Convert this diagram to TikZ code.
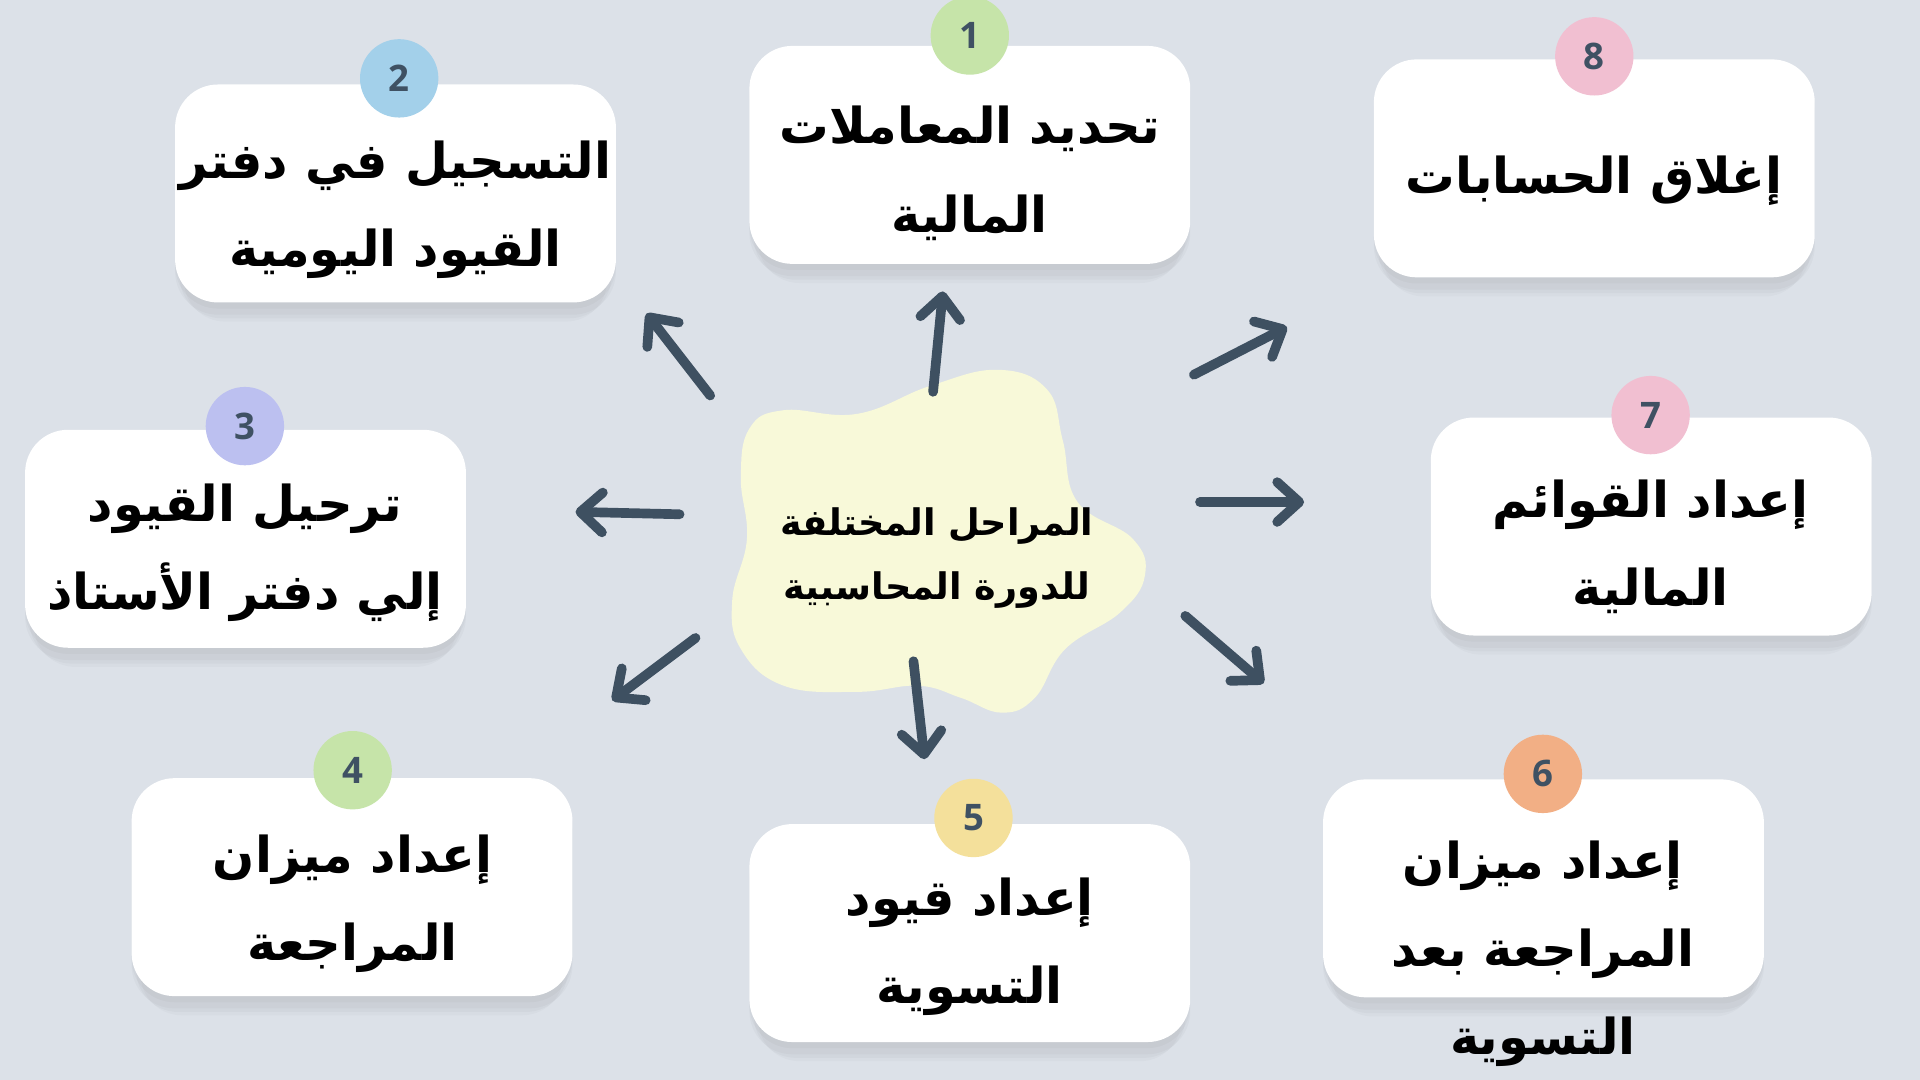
\documentclass[tikz,border=0pt]{standalone}
\usepackage{fontspec}
\newfontfamily\arabicfont[Script=Arabic]{DejaVu Sans}
\newfontfamily\numfont{Open Sans}
\TeXXeTstate=1
\usetikzlibrary{arrows.meta,shadows,positioning}

\definecolor{bgcol}{HTML}{DCE1E8}
\definecolor{blobcol}{HTML}{F8F9D9}
\definecolor{arrowcol}{HTML}{3E5061}
\definecolor{numcol}{HTML}{3F5163}
\definecolor{cgreen}{HTML}{C6E4A9}
\definecolor{cblue}{HTML}{A3D0EA}
\definecolor{clav}{HTML}{BCC0F0}
\definecolor{cyellow}{HTML}{F4E09B}
\definecolor{corange}{HTML}{F2AF85}
\definecolor{cpink}{HTML}{F1BFD1}

\newcommand{\artext}[1]{\beginR #1\endR}

\tikzset{
  stepbox/.style={fill=white, rounded corners=7mm, minimum width=72mm, minimum height=35.6mm,
    general shadow={shadow yshift=-4mm, shadow scale=0.96, opacity=0.02, fill=black},
    general shadow={shadow yshift=-3mm, shadow scale=0.98, opacity=0.025, fill=black},
    general shadow={shadow yshift=-2mm, opacity=0.025, fill=black},
    general shadow={shadow yshift=-1mm, opacity=0.025, fill=black}},
  badge/.style={circle, minimum size=12.8mm, inner sep=0pt, text=numcol,
    font=\numfont\bfseries\fontsize{17}{17}\selectfont},
  steptext/.style={align=center, inner sep=0pt, font=\arabicfont\bfseries\fontsize{23}{41}\selectfont},
  maintext/.style={align=center, inner sep=0pt, font=\arabicfont\bfseries\fontsize{17}{29.6}\selectfont},
  flow/.style={draw=arrowcol, line width=4.5pt, line cap=round,
    -{Straight Barb[length=3.6mm, width=6.5mm, line cap=round, line join=round]}}
}

\begin{document}
\begin{tikzpicture}[x=0.2mm, y=-0.2mm]
    % background
    \fill[bgcol] (0,0) rectangle (1568,882);
    \useasboundingbox (0,0) rectangle (1568,882);

    % centre blob
    \fill[blobcol] plot[smooth cycle, tension=0.7] coordinates {
      (640,335) (700,338) (760,315) (815,302) (855,318) (868,360) (880,410)
      (925,440) (935,470) (915,500) (870,530) (845,570) (818,582) (785,570)
      (750,560) (700,565) (640,560) (605,530) (598,490) (610,440) (605,390) (612,350)};
    \node[maintext] (centre) at (765,456) {\artext{المراحل المختلفة}\\\artext{للدورة المحاسبية}};

    % step boxes
    \node[stepbox] (b1) at (792,126.5) {};
    \node[stepbox] (b2) at (323,158) {};
    \node[stepbox] (b3) at (200.5,440) {};
    \node[stepbox] (b4) at (287.5,724.5) {};
    \node[stepbox] (b5) at (792,762) {};
    \node[stepbox] (b6) at (1260.5,725.5) {};
    \node[stepbox] (b7) at (1348.5,430) {};
    \node[stepbox] (b8) at (1302,137.5) {};

    % badges
    \node[badge, fill=cgreen] (n1) at (792,29) {1};
    \node[badge, fill=cblue] (n2) at (326,64) {2};
    \node[badge, fill=clav] (n3) at (200,348) {3};
    \node[badge, fill=cgreen] (n4) at (288,629) {4};
    \node[badge, fill=cyellow] (n5) at (795,668) {5};
    \node[badge, fill=corange] (n6) at (1260,632) {6};
    \node[badge, fill=cpink] (n7) at (1348,339) {7};
    \node[badge, fill=cpink] (n8) at (1302,46) {8};

    % step texts
    \node[steptext] (t1) at (792,141.5) {\artext{تحديد المعاملات}\\\artext{المالية}};
    \node[steptext] (t2) at (323,171.5) {\artext{التسجيل في دفتر}\\\artext{القيود اليومية}};
    \node[steptext] (t3) at (200,451.5) {\artext{ترحيل القيود}\\\artext{إلي دفتر الأستاذ}};
    \node[steptext] (t4) at (288,738) {\artext{إعداد ميزان}\\\artext{المراجعة}};
    \node[steptext] (t5) at (792,773) {\artext{إعداد قيود}\\\artext{التسوية}};
    \node[steptext] (t6) at (1260,779) {\artext{إعداد ميزان}\\\artext{المراجعة بعد}\\\artext{التسوية}};
    \node[steptext] (t7) at (1348,446.5) {\artext{إعداد القوائم}\\\artext{المالية}};
    \node[steptext] (t8) at (1302,148) {\artext{إغلاق الحسابات}};

    % arrows out of the centre
    \foreach \i/\sx/\sy/\ex/\ey in {1/762/320/770/238, 2/580/323/528/256, 3/555/420/470/418,
      4/568/521/500/572, 5/746/540/755/620, 6/968/503/1032/558, 7/980/410/1065/410, 8/975/306/1051/267}
    {
      \coordinate (s\i) at (\sx,\sy);
      \coordinate (e\i) at (\ex,\ey);
      \draw[flow] (s\i) -- (e\i);
    }
\end{tikzpicture}
\end{document}
